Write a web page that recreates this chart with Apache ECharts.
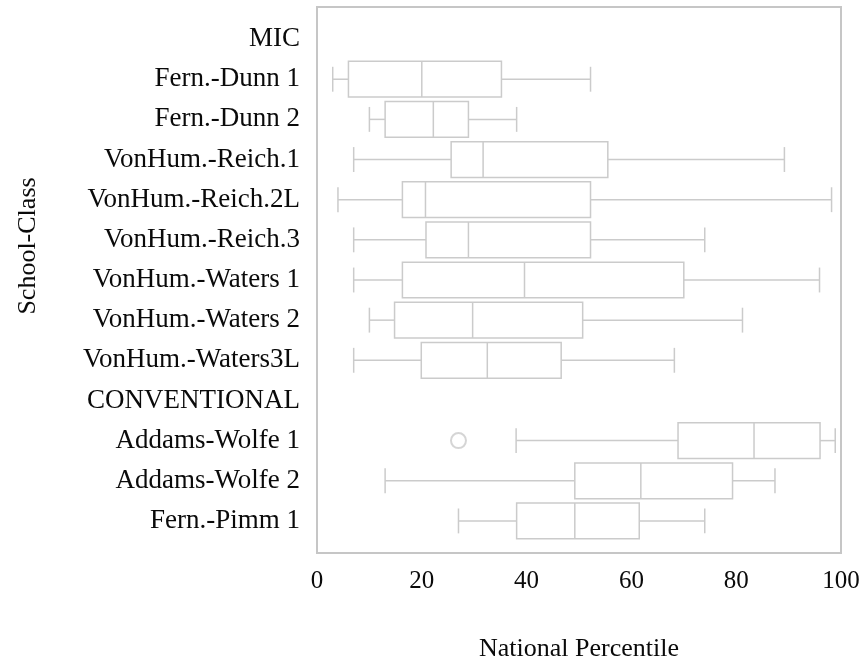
<!DOCTYPE html>
<html>
<head>
<meta charset="utf-8">
<script src="https://cdn.jsdelivr.net/npm/echarts@6/dist/echarts.min.js"></script>
<style>
  html, body { margin: 0; padding: 0; background: #fff; }
  #chart { width: 863px; height: 668px; }
</style>
</head>
<body>
<div id="chart"></div>
<script>
// School-class rows, top to bottom (group headers carry no box)
const categories = [
  'MIC', 'Fern.-Dunn 1', 'Fern.-Dunn 2', 'VonHum.-Reich.1', 'VonHum.-Reich.2L',
  'VonHum.-Reich.3', 'VonHum.-Waters 1', 'VonHum.-Waters 2', 'VonHum.-Waters3L',
  'CONVENTIONAL', 'Addams-Wolfe 1', 'Addams-Wolfe 2', 'Fern.-Pimm 1'
];

// Five-number summaries per row: [whisker low, Q1, median, Q3, whisker high]
const boxRows = [
  'Fern.-Dunn 1', 'Fern.-Dunn 2', 'VonHum.-Reich.1', 'VonHum.-Reich.2L',
  'VonHum.-Reich.3', 'VonHum.-Waters 1', 'VonHum.-Waters 2', 'VonHum.-Waters3L',
  'Addams-Wolfe 1', 'Addams-Wolfe 2', 'Fern.-Pimm 1'
];
const lowValues    = [3, 10, 7, 4, 7, 7, 10, 7, 38, 13, 27];
const q1Values     = [6, 13, 25.6, 16.3, 20.8, 16.3, 14.8, 19.9, 68.9, 49.2, 38.1];
const medianValues = [20, 22.2, 31.7, 20.7, 28.9, 39.6, 29.7, 32.5, 83.4, 61.8, 49.2];
const q3Values     = [35.2, 28.9, 55.5, 52.2, 52.2, 70, 50.7, 46.6, 96, 79.3, 61.5];
const highValues   = [52.2, 38.1, 89.2, 98.2, 74, 95.9, 81.2, 68.2, 98.9, 87.4, 74];

// Outlying observations
const outlierRows   = ['Addams-Wolfe 1'];
const outlierValues = [27];

const xTicks = [0, 20, 40, 60, 80, 100];

const boxData = boxRows.map((name, i) => [
  categories.indexOf(name), lowValues[i], q1Values[i], medianValues[i], q3Values[i], highValues[i]
]);
const outlierData = outlierRows.map((name, i) => [outlierValues[i], categories.indexOf(name)]);

const LINE = '#cbcbcb';
const TEXT = '#0a0a0a';
const FONT = '"Liberation Serif", "DejaVu Serif", serif';

function renderBox(params, api) {
  const row = api.value(0);
  const lo = api.coord([api.value(1), row]);
  const q1 = api.coord([api.value(2), row]);
  const md = api.coord([api.value(3), row]);
  const q3 = api.coord([api.value(4), row]);
  const hi = api.coord([api.value(5), row]);
  const band = api.size([0, 1])[1];
  const boxH = band * 0.89;
  const capH = band * 0.62;
  const y = lo[1];
  const style = { stroke: LINE, lineWidth: 1.5, fill: null };
  return {
    type: 'group',
    children: [
      { type: 'line', shape: { x1: lo[0], y1: y, x2: q1[0], y2: y }, style },
      { type: 'line', shape: { x1: q3[0], y1: y, x2: hi[0], y2: y }, style },
      { type: 'line', shape: { x1: lo[0], y1: y - capH / 2, x2: lo[0], y2: y + capH / 2 }, style },
      { type: 'line', shape: { x1: hi[0], y1: y - capH / 2, x2: hi[0], y2: y + capH / 2 }, style },
      { type: 'rect', shape: { x: q1[0], y: y - boxH / 2, width: q3[0] - q1[0], height: boxH },
        style: { stroke: LINE, lineWidth: 1.5, fill: '#fff' } },
      { type: 'line', shape: { x1: md[0], y1: y - boxH / 2, x2: md[0], y2: y + boxH / 2 }, style }
    ]
  };
}

const chart = echarts.init(document.getElementById('chart'), null, { renderer: 'canvas' });
chart.setOption({
  backgroundColor: '#fff',
  animation: false,
  textStyle: { fontFamily: FONT },
  grid: [
    // outer frame with the percentile axis
    { left: 317, right: 22, top: 7, bottom: 115, show: true, borderColor: '#c6c6c6', borderWidth: 2, backgroundColor: 'transparent' },
    // inner area holding the rows
    { left: 317, right: 22, top: 19, bottom: 127 }
  ],
  xAxis: [
    {
      gridIndex: 0, type: 'value', min: 0, max: 100, interval: 20,
      axisLine: { show: false }, axisTick: { show: false }, splitLine: { show: false },
      axisLabel: { color: TEXT, fontSize: 25, fontFamily: FONT, margin: 16,
        customValues: xTicks },
      name: 'National Percentile', nameLocation: 'middle', nameGap: 83,
      nameTextStyle: { color: TEXT, fontSize: 26, fontFamily: FONT }
    },
    {
      gridIndex: 1, type: 'value', min: 0, max: 100, show: false
    }
  ],
  yAxis: [
    { gridIndex: 0, type: 'value', show: false },
    {
      gridIndex: 1, type: 'category', data: categories, inverse: true,
      axisLine: { show: false }, axisTick: { show: false }, splitLine: { show: false },
      axisLabel: { color: TEXT, fontSize: 27, fontFamily: FONT, margin: 17 }
    }
  ],
  graphic: [
    {
      type: 'text', x: 28, y: 246, rotation: Math.PI / 2,
      style: { text: 'School-Class', fill: TEXT, fontSize: 26, fontFamily: FONT,
        align: 'center', verticalAlign: 'middle' }
    }
  ],
  series: [
    {
      type: 'custom', xAxisIndex: 1, yAxisIndex: 1,
      renderItem: renderBox,
      encode: { x: [1, 2, 3, 4, 5], y: 0 },
      data: boxData
    },
    {
      type: 'scatter', xAxisIndex: 1, yAxisIndex: 1,
      symbol: 'emptyCircle', symbolSize: 15,
      itemStyle: { color: LINE, borderColor: LINE, borderWidth: 1.5 },
      data: outlierData
    }
  ]
});
</script>
</body>
</html>
